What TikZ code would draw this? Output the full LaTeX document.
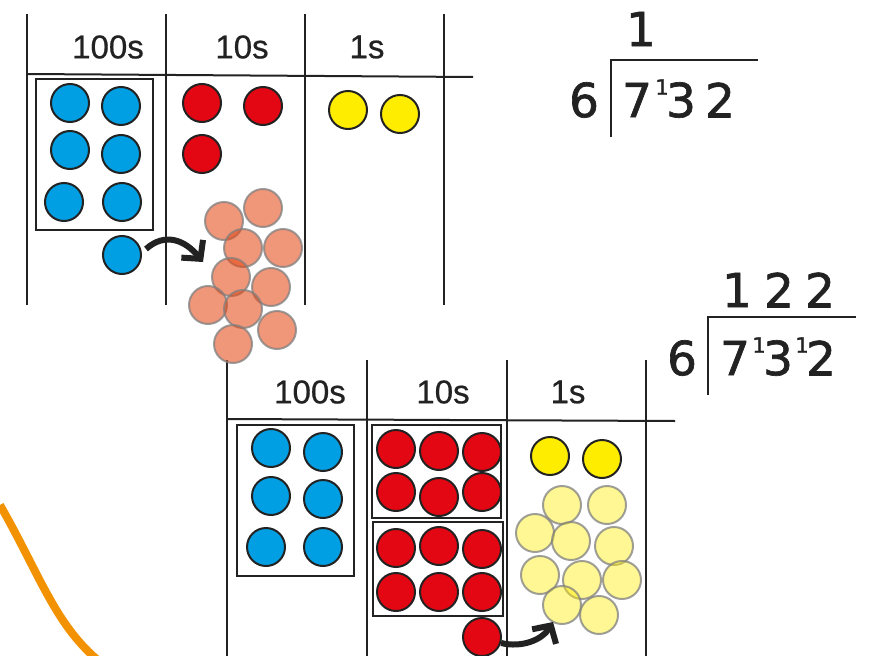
\documentclass[tikz,border=0pt]{standalone}
\usepackage{fontspec}
\usetikzlibrary{arrows.meta}
\newfontfamily\labfont[FakeBold=0.6]{Liberation Sans}
\newfontfamily\divfont[FakeBold=1.4]{DejaVu Sans}
\definecolor{cblue}{HTML}{009FE3}
\definecolor{cred}{HTML}{E30613}
\definecolor{cyel}{HTML}{FFED00}
\definecolor{csalmon}{RGB}{229,72,21}
\definecolor{corange}{HTML}{F39200}
\definecolor{cline}{HTML}{222222}
\tikzset{
  gridline/.style={draw=cline, line width=2pt},
  counter/.style={circle, draw=cline, line width=2pt, minimum size=38pt, inner sep=0pt},
  bluec/.style={counter, fill=cblue},
  redc/.style={counter, fill=cred},
  yelc/.style={counter, fill=cyel},
  ghost/.style={circle, minimum size=38pt, inner sep=0pt, line width=2pt, draw=gray, draw opacity=0.75},
  pinkc/.style={ghost, fill=csalmon, fill opacity=0.57},
  paleyel/.style={ghost, fill=cyel, fill opacity=0.42},
  groupbox/.style={draw=cline, line width=2pt},
  lab/.style={inner sep=0pt, text=cline, font=\labfont\fontsize{33}{33}\selectfont},
  dig/.style={inner sep=0pt, text=cline, font=\divfont\fontsize{47}{47}\selectfont},
  supdig/.style={inner sep=0pt, text=cline, font=\divfont\fontsize{21}{21}\selectfont},
  divline/.style={draw=cline, line width=2.2pt},
  movearrow/.style={draw=cline, line width=6pt, -{Straight Barb[length=13pt,width=28pt,line width=6pt]}},
}
\begin{document}
\begin{tikzpicture}[x=1pt,y=-1pt]
\useasboundingbox (0,0) rectangle (874,655);
\clip (0,0) rectangle (874,655);
\fill[white] (0,0) rectangle (874,655);

% orange curve
\draw[corange, line width=8pt] (0,505) .. controls (40,575) and (55,625) .. (100,662);

% ---------- top grid ----------
\draw[gridline] (27,14) -- (27,305);
\draw[gridline] (166,14) -- (166,305);
\draw[gridline] (305,14) -- (305,305);
\draw[gridline] (444,14) -- (444,305);
\draw[gridline] (27,74) -- (473,77);
\node[lab] (t100) at (108,47) {100s};
\node[lab] (t10) at (242,47) {10s};
\node[lab] (t1) at (367,47) {1s};

\draw[groupbox] (36,79) rectangle (153,230);
\node[bluec] (tb1) at (70,103) {};
\node[bluec] (tb2) at (121,106) {};
\node[bluec] (tb3) at (70,150) {};
\node[bluec] (tb4) at (121,154) {};
\node[bluec] (tb5) at (64,202) {};
\node[bluec] (tb6) at (122,202) {};
\node[bluec] (tb7) at (122,255) {};

\node[redc] (tr1) at (202,103) {};
\node[redc] (tr2) at (263,106) {};
\node[redc] (tr3) at (202,154) {};

\node[yelc] (ty1) at (348,110) {};
\node[yelc] (ty2) at (400,114) {};

\coordinate (tarrow) at (203,262);
\draw[movearrow] (tb7.east) ++(4,-6) .. controls (165,232) and (185,240) .. (tarrow);

% ---------- bottom grid ----------
\draw[gridline] (227,360) -- (227,660);
\draw[gridline] (367,360) -- (367,660);
\draw[gridline] (507,360) -- (507,660);
\draw[gridline] (646,360) -- (646,660);
\draw[gridline] (227,419) -- (675,421);
\node[lab] (b100) at (310,392) {100s};
\node[lab] (b10) at (443,392) {10s};
\node[lab] (b1) at (568,392) {1s};

\draw[groupbox] (237,425) rectangle (354,576);
\node[bluec] (bb1) at (271,448) {};
\node[bluec] (bb2) at (323,452) {};
\node[bluec] (bb3) at (271,496) {};
\node[bluec] (bb4) at (323,499) {};
\node[bluec] (bb5) at (266,547) {};
\node[bluec] (bb6) at (323,547) {};

\draw[groupbox] (372,425) rectangle (501,518);
\draw[groupbox] (373,522) rectangle (503,616);
\node[redc] (br1) at (396,449) {};
\node[redc] (br2) at (439,451) {};
\node[redc] (br3) at (482,452) {};
\node[redc] (br4) at (396,492) {};
\node[redc] (br5) at (439,497) {};
\node[redc] (br6) at (482,492) {};
\node[redc] (br7) at (396,548) {};
\node[redc] (br8) at (439,546) {};
\node[redc] (br9) at (482,549) {};
\node[redc] (br10) at (396,592) {};
\node[redc] (br11) at (439,592) {};
\node[redc] (br12) at (482,592) {};
\node[redc] (br13) at (482,637) {};

\node[yelc] (by1) at (550,456) {};
\node[yelc] (by2) at (602,459) {};

\node[paleyel] (py1) at (562,505) {};
\node[paleyel] (py2) at (607,505) {};
\node[paleyel] (py3) at (535,533) {};
\node[paleyel] (py4) at (571,541) {};
\node[paleyel] (py5) at (614,546) {};
\node[paleyel] (py6) at (540,575) {};
\node[paleyel] (py7) at (582,580) {};
\node[paleyel] (py8) at (622,580) {};
\node[paleyel] (py9) at (562,605) {};
\node[paleyel] (py10) at (599,615) {};

\coordinate (barrow) at (553,622);
\draw[movearrow] (br13.east) ++(-1,6) .. controls (522,648) and (542,640) .. (barrow);

% pink (exchanged) tens, drawn over grid lines
\node[pinkc] (p1) at (224,221) {};
\node[pinkc] (p2) at (263,208) {};
\node[pinkc] (p3) at (243,248) {};
\node[pinkc] (p4) at (283,248) {};
\node[pinkc] (p5) at (231,277) {};
\node[pinkc] (p6) at (271,287) {};
\node[pinkc] (p7) at (208,305) {};
\node[pinkc] (p8) at (243,309) {};
\node[pinkc] (p9) at (277,330) {};
\node[pinkc] (p10) at (233,344) {};

% ---------- division 1 ----------
\node[dig] (q1a) at (641,29) {1};
\node[dig] (d1six) at (584,100) {6};
\node[dig] (d1a) at (637,100) {7};
\node[supdig] (d1s) at (662,87) {1};
\node[dig] (d1b) at (681,100) {3};
\node[dig] (d1c) at (720,100) {2};
\coordinate (v1top) at (611,60);
\coordinate (v1bot) at (611,137);
\coordinate (h1end) at (758,60);
\draw[divline] (v1bot) -- (v1top) -- (h1end);

% ---------- division 2 ----------
\node[dig] (q2a) at (737,290) {1};
\node[dig] (q2b) at (779,290) {2};
\node[dig] (q2c) at (820,290) {2};
\node[dig] (d2six) at (682,358) {6};
\node[dig] (d2a) at (735,358) {7};
\node[supdig] (d2s1) at (759,345) {1};
\node[dig] (d2b) at (778,358) {3};
\node[supdig] (d2s2) at (802,345) {1};
\node[dig] (d2c) at (821,358) {2};
\coordinate (v2top) at (708,317);
\coordinate (v2bot) at (708,395);
\coordinate (h2end) at (856,317);
\draw[divline] (v2bot) -- (v2top) -- (h2end);
\end{tikzpicture}
\end{document}
